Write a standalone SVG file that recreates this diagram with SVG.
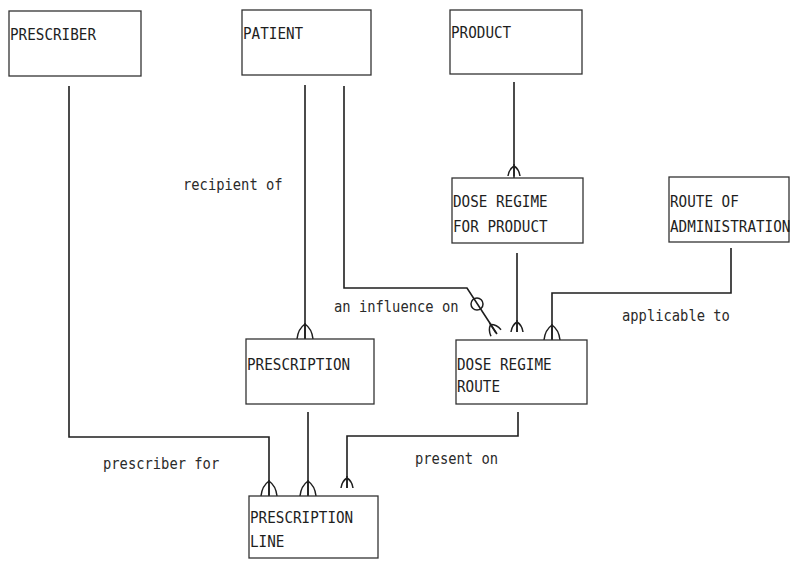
<svg xmlns="http://www.w3.org/2000/svg" width="790" height="561" viewBox="0 0 790 561">
  <style>
    .box { fill: none; stroke: #333; stroke-width: 1.3; }
    .lbl { font-family: "DejaVu Sans Mono", "Liberation Mono", monospace; font-size: 14.3px; fill: #1e1e1e; }
    .rel { font-family: "DejaVu Sans Mono", "Liberation Mono", monospace; font-size: 13.8px; fill: #2a2a2a; }
    .conn { fill: none; stroke: #1e1e1e; stroke-width: 1.6; }
    .foot { fill: none; stroke: #1e1e1e; stroke-width: 1.5; }
  </style>
  <defs>
    <!-- crow's foot, drawn pointing up with its feet on y=0 -->
    <path id="crow" d="M-8,0 Q-7,-10 0,-15 Q7,-10 8,0 M0,-16 V0"/>
    <path id="crowSmall" d="M-6,0 Q-5,-7 0,-10 Q5,-7 6,0 M0,-12 V0"/>
  </defs>
  <rect width="790" height="561" fill="#ffffff"/>

  <g id="connectors">
    <!-- PRESCRIBER : PRESCRIPTION LINE -->
    <path class="conn" d="M69,86 V437 H269 V496"/>
    <use href="#crow" class="foot" transform="translate(269 496)"/>
    <!-- PATIENT : PRESCRIPTION -->
    <path class="conn" d="M305,85 V339" stroke-width="2"/>
    <use href="#crow" class="foot" transform="translate(305 339)"/>
    <!-- PATIENT : DOSE REGIME ROUTE (optional) -->
    <path class="conn" d="M344,86 V288 H467 L497,334"/>
    <circle cx="477" cy="304" r="6" class="foot"/>
    <use href="#crowSmall" class="foot" transform="translate(496 333) rotate(-33)"/>
    <!-- PRODUCT : DOSE REGIME FOR PRODUCT -->
    <path class="conn" d="M514,82 V178"/>
    <use href="#crowSmall" class="foot" transform="translate(514 176)"/>
    <!-- DOSE REGIME FOR PRODUCT : DOSE REGIME ROUTE -->
    <path class="conn" d="M517,253 V332"/>
    <use href="#crowSmall" class="foot" transform="translate(517 332)"/>
    <!-- ROUTE OF ADMINISTRATION : DOSE REGIME ROUTE -->
    <path class="conn" d="M731,248 V293 H552 V340"/>
    <use href="#crow" class="foot" transform="translate(552 340)"/>
    <!-- PRESCRIPTION : PRESCRIPTION LINE -->
    <path class="conn" d="M308,412 V496"/>
    <use href="#crow" class="foot" transform="translate(308 496)"/>
    <!-- DOSE REGIME ROUTE : PRESCRIPTION LINE -->
    <path class="conn" d="M518,412 V436 H347 V488"/>
    <use href="#crowSmall" class="foot" transform="translate(347 488)"/>

    <text class="rel" transform="translate(183 190) scale(1 1.15)">recipient of</text>
    <text class="rel" transform="translate(334 312) scale(1 1.15)">an influence on</text>
    <text class="rel" transform="translate(622 321) scale(1 1.15)">applicable to</text>
    <text class="rel" transform="translate(103 469) scale(1 1.15)">prescriber for</text>
    <text class="rel" transform="translate(415 464) scale(1 1.15)">present on</text>
  </g>

  <g id="prescriber">
    <rect class="box" x="9" y="11" width="132" height="65"/>
    <text class="lbl" transform="translate(10 40) scale(1 1.15)">PRESCRIBER</text>
  </g>
  <g id="patient">
    <rect class="box" x="242" y="10" width="129" height="65"/>
    <text class="lbl" transform="translate(243 39) scale(1 1.15)">PATIENT</text>
  </g>
  <g id="product">
    <rect class="box" x="450" y="10" width="132" height="64"/>
    <text class="lbl" transform="translate(451 38) scale(1 1.15)">PRODUCT</text>
  </g>
  <g id="dose-regime-for-product">
    <rect class="box" x="452" y="178" width="131" height="65"/>
    <text class="lbl" transform="translate(453 207) scale(1 1.15)">DOSE REGIME</text>
    <text class="lbl" transform="translate(453 232) scale(1 1.15)">FOR PRODUCT</text>
  </g>
  <g id="route-of-administration">
    <rect class="box" x="669" y="177" width="120" height="65"/>
    <text class="lbl" transform="translate(670 207) scale(1 1.15)">ROUTE OF</text>
    <text class="lbl" transform="translate(670 232) scale(1 1.15)">ADMINISTRATION</text>
  </g>
  <g id="prescription">
    <rect class="box" x="246" y="339" width="128" height="65"/>
    <text class="lbl" transform="translate(247 370) scale(1 1.15)">PRESCRIPTION</text>
  </g>
  <g id="dose-regime-route">
    <rect class="box" x="456" y="340" width="131" height="64"/>
    <text class="lbl" transform="translate(457 370) scale(1 1.15)">DOSE REGIME</text>
    <text class="lbl" transform="translate(457 392) scale(1 1.15)">ROUTE</text>
  </g>
  <g id="prescription-line">
    <rect class="box" x="249" y="496" width="129" height="62"/>
    <text class="lbl" transform="translate(250 523) scale(1 1.15)">PRESCRIPTION</text>
    <text class="lbl" transform="translate(250 547) scale(1 1.15)">LINE</text>
  </g>
</svg>
